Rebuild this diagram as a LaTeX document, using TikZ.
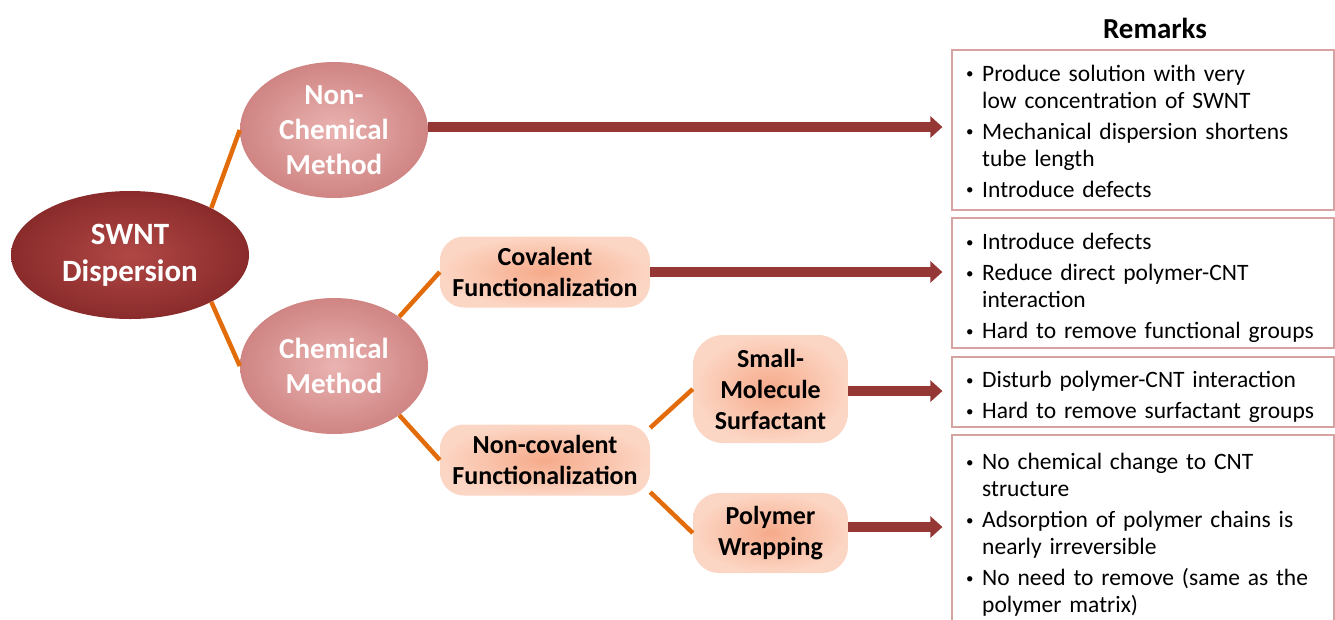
\documentclass[tikz,border=0pt]{standalone}
\usepackage{fontspec}
\setmainfont{Carlito}
\usetikzlibrary{arrows.meta,shapes.geometric}
\definecolor{swntIn}{HTML}{B04845}
\definecolor{swntOut}{HTML}{8A2B2B}
\definecolor{methIn}{HTML}{EAB3B1}
\definecolor{methOut}{HTML}{CF8583}
\definecolor{peachIn}{HTML}{F6AA8A}
\definecolor{peachOut}{HTML}{FCD6C4}
\definecolor{arrowred}{HTML}{953735}
\definecolor{conncol}{HTML}{E36C0A}
\definecolor{boxline}{HTML}{D6A3A2}
\newcommand{\ritem}[1]{\par\parskip=4pt\relax\hangindent=16pt\relax\hangafter=1\relax\noindent\hbox to 16pt{\raisebox{0.22ex}{\fontsize{15}{15}\selectfont\textbullet}\hfil}#1\par}
\begin{document}
\begin{tikzpicture}[x=1pt,y=-1pt,
  root/.style={ellipse, minimum width=238pt, minimum height=128pt, inner sep=0pt,
    inner color=swntIn, outer color=swntOut, text=white, align=center,
    font=\fontsize{31}{37}\selectfont\bfseries},
  meth/.style={ellipse, minimum width=188pt, minimum height=136pt, inner xsep=0pt, inner ysep=-4pt,
    inner color=methIn, outer color=methOut, text=white, align=center,
    font=\fontsize{29}{35}\selectfont\bfseries},
  sub/.style={rectangle, rounded corners=24pt, inner sep=0pt,
    inner color=peachIn, outer color=peachOut, text=black, align=center,
    font=\fontsize{26}{31}\selectfont\bfseries},
  conn/.style={draw=conncol, line width=4.5pt},
  arr/.style={draw=arrowred, line width=9.5pt, shorten >=9pt,
    -{Triangle[length=12pt,width=21pt]}},
  remark/.style={draw=boxline, line width=1.2pt, fill=white, minimum width=382pt, inner sep=0pt},
  rtext/.style={anchor=west, text width=362pt, inner sep=0pt, align=left,
    font=\fontsize{23.5}{27}\selectfont}
  ]
\useasboundingbox (0,0) rectangle (1335,619);
\clip (0,0) rectangle (1335,619);

% main nodes
\node[root] (swnt) at (130,255) {SWNT\\Dispersion};
\node[meth] (nonchem) at (334,130) {Non-\\Chemical\\Method};
\node[meth] (chem) at (334,366) {Chemical\\Method};
\node[sub, minimum width=210pt, minimum height=71pt] (cov) at (545,272) {Covalent\\Functionalization};
\node[sub, minimum width=210pt, minimum height=71pt] (noncov) at (545,460) {Non-covalent\\Functionalization};
\node[sub, minimum width=155pt, minimum height=108pt, rounded corners=30pt] (small) at (770.5,389) {Small-\\Molecule\\Surfactant};
\node[sub, minimum width=155pt, minimum height=80pt, rounded corners=26pt] (poly) at (770.5,533) {Polymer\\Wrapping};

% remark boxes
\node[font=\fontsize{29}{34}\selectfont\bfseries] (hdr) at (1155,28) {Remarks};
\node[remark, minimum height=160pt] (r1) at (1143,130) {};
\node[remark, minimum height=130pt] (r2) at (1143,283) {};
\node[remark, minimum height=70pt] (r3) at (1143,392) {};
\node[remark, minimum height=200pt] (r4) at (1143,535) {};

% remark texts
\node[rtext] (t1) at (966,124) {%
  \ritem{\mbox{Produce solution with very}\newline\mbox{low concentration of SWNT}}
  \ritem{\mbox{Mechanical dispersion shortens}\newline\mbox{tube length}}
  \ritem{\mbox{Introduce defects}}};
\node[rtext] (t2) at (966,280.5) {%
  \ritem{\mbox{Introduce defects}}
  \ritem{\mbox{Reduce direct polymer-CNT}\newline\mbox{interaction}}
  \ritem{\mbox{Hard to remove functional groups}}};
\node[rtext] (t3) at (966,390) {%
  \ritem{\mbox{Disturb polymer-CNT interaction}}
  \ritem{\mbox{Hard to remove surfactant groups}}};
\node[rtext] (t4) at (966,527.5) {%
  \ritem{\mbox{No chemical change to CNT}\newline\mbox{structure}}
  \ritem{\mbox{Adsorption of polymer chains is}\newline\mbox{nearly irreversible}}
  \ritem{\mbox{No need to remove (same as the}\newline\mbox{polymer matrix)}}};

% connectors
\draw[conn] (swnt.30) -- (nonchem.west);
\draw[conn] (swnt.-30) -- (chem.west);
\draw[conn] (chem.37) -- (cov.west);
\draw[conn] (chem.-37) -- (noncov.west);
\draw[conn] (noncov.17) -- (small.west);
\draw[conn] (noncov.-17) -- (poly.west);

% arrows
\draw[arr] (nonchem.east) ++(0,-3) coordinate (a1) -- (a1 -| r1.west);
\draw[arr] (cov.east) -- (cov.east -| r2.west);
\draw[arr] (small.east) ++(0,2) coordinate (a3) -- (a3 -| r3.west);
\draw[arr] (poly.east) ++(0,-6) coordinate (a4) -- (a4 -| r4.west);
\end{tikzpicture}
\end{document}
